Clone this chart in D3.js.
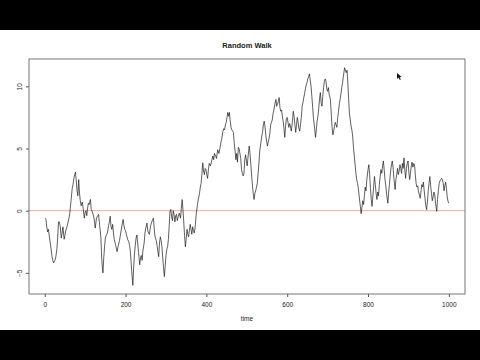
<!DOCTYPE html>
<html>
<head>
<meta charset="utf-8">
<script src="https://cdn.jsdelivr.net/npm/d3@7"></script>
<style>
  body { margin: 0; background: #000; }
  svg { display: block; }
  text { font-family: "Liberation Sans", Arial, sans-serif; fill: #222; }
</style>
</head>
<body>
<div id="chart"></div>
<script>
// time steps and walk values
var times = [1,3,5,7,9,12,15,18,20,22,25,27,30,32,34,36,38,41,43,45,48,50,52,55,57,60,62,65,68,70,72,74,76,78,80,82,84,86,88,90,93,95,98,100,102,104,106,108,110,113,115,118,122,125,128,131,133,136,139,141,143,144,146,148,150,152,155,158,160,162,164,166,168,170,172,175,179,182,185,188,191,194,196,198,200,202,205,208,210,212,215,218,220,222,224,226,228,230,232,235,237,239,241,243,246,248,250,253,255,257,259,262,265,267,269,271,273,276,278,280,282,284,286,288,290,292,294,296,298,300,302,304,306,308,310,312,314,316,318,320,322,324,326,328,330,333,336,338,340,342,344,346,348,350,352,354,356,358,360,362,364,366,368,370,372,375,378,380,383,385,387,389,391,393,395,397,399,401,403,405,407,410,413,416,418,420,423,425,428,431,434,436,438,441,443,445,447,449,451,453,455,457,459,461,463,465,467,469,471,473,475,477,479,481,483,485,487,489,491,493,495,497,499,501,503,506,508,510,512,514,516,518,520,522,524,526,528,530,532,535,537,539,541,543,545,547,549,551,553,555,557,559,561,563,565,567,569,572,574,576,578,580,582,584,586,588,590,592,594,596,598,600,602,604,606,608,610,612,614,615,617,619,621,623,625,627,629,631,633,635,637,639,641,643,645,647,649,651,653,655,657,659,661,663,665,667,670,672,674,676,678,680,682,684,686,688,690,692,694,696,698,700,702,704,707,709,711,713,715,717,719,721,723,725,727,729,731,733,735,737,739,742,744,746,748,750,752,754,756,758,760,762,764,766,768,770,772,774,776,778,780,781,783,785,787,789,791,793,795,797,800,802,804,806,808,810,812,814,816,818,820,822,824,826,828,830,832,834,836,838,840,842,844,846,849,851,853,855,857,860,862,864,867,869,871,873,875,877,879,881,883,885,887,889,891,893,895,897,899,901,903,905,907,909,911,913,915,917,919,921,923,925,927,929,931,933,935,937,939,941,943,945,947,949,951,953,955,957,959,961,963,965,967,970,972,974,976,978,980,982,984,986,988,990,992,994,996,998,1000];
var walk = [-0.6,-0.7,-1.3,-1.7,-1.5,-2.2,-2.9,-3.7,-4.0,-4.2,-4.0,-3.8,-3.1,-2.2,-0.9,-0.9,-1.2,-2.2,-1.8,-1.3,-2.3,-2.0,-1.6,-1.3,-1.0,-0.6,-0.2,0.8,1.8,2.1,2.6,2.9,3.1,2.4,1.6,1.2,2.5,1.4,0.8,0.4,0.7,0.2,-0.6,-0.1,0.0,-0.4,0.2,0.6,0.5,0.9,0.1,-0.1,-0.6,-1.4,-0.6,-0.4,-0.3,-1.2,-2.2,-3.9,-4.7,-5.0,-3.8,-2.9,-2.2,-2.0,-1.8,-1.2,-0.9,-0.45,-1.3,-1.5,-1.1,-1.8,-2.3,-2.7,-3.3,-2.8,-2.4,-1.8,-1.2,-0.7,-1.2,-1.5,-1.6,-1.9,-2.3,-2.5,-2.8,-3.3,-4.8,-6.0,-4.6,-3.5,-2.8,-2.2,-1.95,-2.6,-3.3,-4.35,-3.8,-3.6,-4.0,-3.2,-2.6,-1.8,-1.4,-1.0,-1.6,-1.8,-1.9,-1.2,-0.9,-0.7,-0.6,-1.5,-2.1,-2.4,-2.8,-3.3,-3.7,-2.6,-2.1,-2.4,-2.9,-3.8,-4.6,-5.3,-4.5,-3.6,-3.1,-2.9,-2.3,-1.2,-0.05,0.1,-0.5,-0.8,0.0,-0.3,-0.9,-0.4,-0.3,-0.8,-0.5,-0.2,-0.6,0.2,0.9,0.1,-0.9,-2.0,-2.9,-2.3,-1.5,-1.9,-2.1,-1.6,-1.1,-1.5,-1.9,-1.3,-1.6,-1.8,-1.4,-0.2,0.5,0.9,1.4,1.9,2.2,3.0,3.85,3.2,2.9,3.4,3.3,2.9,2.6,3.3,3.8,3.6,4.0,4.4,4.1,4.6,4.4,4.2,4.9,4.6,5.1,5.5,5.8,6.4,6.6,6.5,6.9,7.1,7.5,7.9,7.6,7.9,7.2,6.7,6.5,6.4,6.3,5.4,4.8,4.1,4.6,3.9,5.1,5.0,4.6,4.2,3.3,3.0,2.8,3.0,4.1,4.5,4.0,3.6,4.3,5.2,4.6,3.7,2.8,2.0,1.4,0.9,1.4,1.6,1.9,2.2,3.0,3.8,4.8,5.5,6.0,6.3,6.9,7.2,6.8,6.1,5.6,5.2,5.5,5.8,6.2,6.9,7.1,7.3,7.8,8.1,8.5,8.95,8.4,8.6,8.8,9.1,8.3,8.0,8.1,7.6,7.2,6.6,5.9,6.8,7.4,7.5,7.1,6.7,7.0,6.8,6.4,6.9,7.6,8.0,7.6,6.9,6.3,6.9,7.5,7.1,6.6,6.4,7.0,7.5,8.4,8.7,9.1,9.4,9.8,10.1,10.3,10.6,10.8,11.0,10.5,10.0,9.2,8.3,7.4,6.9,5.9,6.5,7.2,7.6,8.2,9.0,9.5,8.7,8.4,9.2,9.9,10.4,10.6,10.4,9.8,9.6,9.9,9.3,8.95,7.8,6.7,6.1,6.4,6.8,7.1,6.9,6.7,7.5,8.0,8.6,8.95,9.4,9.9,10.3,10.8,11.5,11.3,11.1,11.3,10.3,9.0,7.8,7.3,6.8,6.5,6.0,5.1,4.4,3.7,3.0,2.5,2.2,1.8,1.2,0.6,0.35,-0.25,0.3,0.8,0.5,1.2,1.9,1.6,2.5,3.3,3.7,2.9,1.8,0.9,0.35,1.2,2.0,2.75,2.1,1.4,0.9,1.5,1.2,2.1,2.75,3.3,3.0,3.6,4.0,3.3,2.5,2.0,1.3,0.6,1.5,2.1,2.9,3.5,4.0,3.5,2.6,1.7,2.5,2.9,3.4,2.9,3.2,3.7,3.4,3.0,3.8,3.4,4.25,3.3,2.6,3.4,3.8,4.0,3.1,2.5,3.0,3.6,3.9,3.5,3.8,3.7,2.9,2.2,1.9,2.0,1.5,1.3,1.0,1.5,2.1,1.9,2.3,1.6,1.0,0.4,0.08,0.7,1.6,2.2,2.75,2.0,1.4,0.8,1.1,1.5,1.3,0.6,-0.05,0.9,1.6,2.2,2.4,2.5,2.6,2.5,2.2,1.6,2.0,2.3,1.8,1.1,0.75,0.6];
var xTicks = [0, 200, 400, 600, 800, 1000];
var yTicks = [-5, 0, 5, 10];
var refLevel = 0;

var W = 480, H = 360;
var box = {left: 29, right: 465, top: 59, bottom: 294};

var svg = d3.select("#chart").append("svg")
  .attr("width", W)
  .attr("height", H);

// video frame: black bars above and below the white page
svg.append("rect").attr("width", W).attr("height", H).attr("fill", "#000");
svg.append("rect").attr("x", 0).attr("y", 30).attr("width", W).attr("height", 300).attr("fill", "#fff");

// R style axis range: data extent padded by 4%
function pad(ext) {
  var d = (ext[1] - ext[0]) * 0.04;
  return [ext[0] - d, ext[1] + d];
}

var x = d3.scaleLinear().domain(pad(d3.extent(times))).range([box.left, box.right]);
var y = d3.scaleLinear().domain(pad(d3.extent(walk))).range([box.bottom, box.top]);

var g = svg.append("g");

// x axis
g.append("g")
  .attr("transform", "translate(0," + box.bottom + ")")
  .call(d3.axisBottom(x).tickValues(xTicks).tickSize(3).tickPadding(5).tickFormat(d3.format("d")))
  .call(function (a) {
    a.select(".domain").remove();
    a.selectAll("line").attr("stroke", "#555");
    a.selectAll("text").attr("font-size", 6.5).attr("fill", "#333").attr("font-family", "Liberation Sans, Arial, sans-serif");
  });

// y axis, labels parallel to the axis
g.append("g")
  .attr("transform", "translate(" + box.left + ",0)")
  .call(d3.axisLeft(y).tickValues(yTicks).tickSize(3).tickFormat(d3.format("d")))
  .call(function (a) {
    a.select(".domain").remove();
    a.selectAll("line").attr("stroke", "#555");
    a.selectAll("text")
      .attr("font-size", 6.5).attr("fill", "#333").attr("font-family", "Liberation Sans, Arial, sans-serif")
      .attr("x", null).attr("dy", null)
      .attr("text-anchor", "middle")
      .attr("transform", "translate(-9,0) rotate(-90)")
      .attr("dy", "0.35em");
  });

// reference line at zero
g.append("line")
  .attr("x1", box.left).attr("x2", box.right)
  .attr("y1", y(refLevel)).attr("y2", y(refLevel))
  .attr("stroke", "#e89090")
  .attr("stroke-width", 0.8);

// the walk
var line = d3.line()
  .x(function (d, i) { return x(times[i]); })
  .y(function (d) { return y(d); });

g.append("path")
  .datum(walk)
  .attr("d", line)
  .attr("fill", "none")
  .attr("stroke", "#1a1a1a")
  .attr("stroke-width", 0.7)
  .attr("stroke-linejoin", "round");

// plot frame
g.append("rect")
  .attr("x", box.left).attr("y", box.top)
  .attr("width", box.right - box.left).attr("height", box.bottom - box.top)
  .attr("fill", "none")
  .attr("stroke", "#666")
  .attr("stroke-width", 0.9);

// titles
svg.append("text")
  .attr("x", (box.left + box.right) / 2).attr("y", 47.5)
  .attr("text-anchor", "middle")
  .attr("font-size", 7.5).attr("font-weight", "bold")
  .attr("fill", "#111")
  .text("Random Walk");

svg.append("text")
  .attr("x", (box.left + box.right) / 2).attr("y", 321)
  .attr("text-anchor", "middle")
  .attr("font-size", 6.5)
  .attr("fill", "#333")
  .text("time");

// mouse pointer left in the frame
svg.append("path")
  .attr("d", "M397,73 L397,79 L398.6,77.6 L399.8,80 L400.8,79.5 L399.7,77.2 L401.6,77 Z")
  .attr("fill", "#111");
</script>
</body>
</html>
